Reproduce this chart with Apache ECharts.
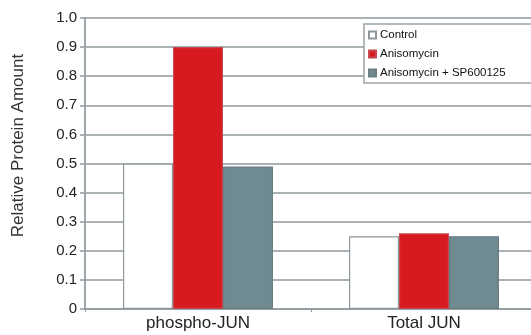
<!DOCTYPE html>
<html><head><meta charset="utf-8">
<script src="https://cdn.jsdelivr.net/npm/echarts@6/dist/echarts.min.js"></script>
<style>html,body{margin:0;padding:0;background:#fff;overflow:hidden}#c{width:545px;height:335px}</style>
</head><body><div id="c"></div>
<script>
const categories = ["phospho-JUN", "Total JUN"];
const seriesNames = ["Control", "Anisomycin", "Anisomycin + SP600125"];
const control = [0.50, 0.25];
const anisomycin = [0.90, 0.26];
const anisoSP = [0.49, 0.25];
const yTicks = [0, 0.1, 0.2, 0.3, 0.4, 0.5, 0.6, 0.7, 0.8, 0.9, 1.0];

const gridColor = '#8e989c';
const font = 'Liberation Sans';
const chart = echarts.init(document.getElementById('c'), null, {renderer: 'canvas'});
const colors = ['#ffffff', '#d71920', '#6f8b91'];
const borders = ['#8e989c', '#c4494e', '#6a7f84'];
const data = [control, anisomycin, anisoSP];
chart.setOption({
  animation: false,
  grid: {left: 85, top: 18, bottom: 26, width: 452, containLabel: false},
  legend: {
    orient: 'vertical', left: 364, top: 24,
    padding: [5, 40, 4, 4],
    backgroundColor: '#fff', borderColor: '#9aa3a7', borderWidth: 1.5,
    itemWidth: 7, itemHeight: 7, itemGap: 7,
    icon: 'rect',
    textStyle: {fontFamily: font, fontSize: 11.5, color: '#111', padding: [0, 0, 0, -1]},
    data: seriesNames
  },
  xAxis: {
    type: 'category', data: categories,
    axisLine: {lineStyle: {color: gridColor, width: 1.5}},
    axisTick: {show: true, length: 3, lineStyle: {color: gridColor}},
    axisLabel: {fontFamily: font, fontSize: 17, color: '#222', margin: 6}
  },
  yAxis: {
    type: 'value', min: 0, max: 1, interval: 0.1,
    name: 'Relative Protein Amount', nameLocation: 'middle', nameGap: 58,
    nameTextStyle: {fontFamily: font, fontSize: 17, color: '#333', padding: [0, 0, 0, 36]},
    axisLine: {show: true, lineStyle: {color: '#9ea7ab', width: 2}},
    axisTick: {show: true, length: 5, lineStyle: {color: gridColor, width: 1.5}},
    splitLine: {lineStyle: {color: gridColor, width: 1.5}},
    axisLabel: {fontFamily: font, fontSize: 15, color: '#222', margin: 8,
      formatter: v => { const t = yTicks.find(x => Math.abs(x - v) < 1e-6); return t === 0 ? '0' : (t !== undefined ? t.toFixed(1) : ''); }}
  },
  series: seriesNames.map((n, i) => ({
    name: n, type: 'bar', data: data[i], barWidth: 50, barGap: '0%',
    itemStyle: {color: colors[i], borderColor: borders[i], borderWidth: 1.2}
  }))
});
</script></body></html>
